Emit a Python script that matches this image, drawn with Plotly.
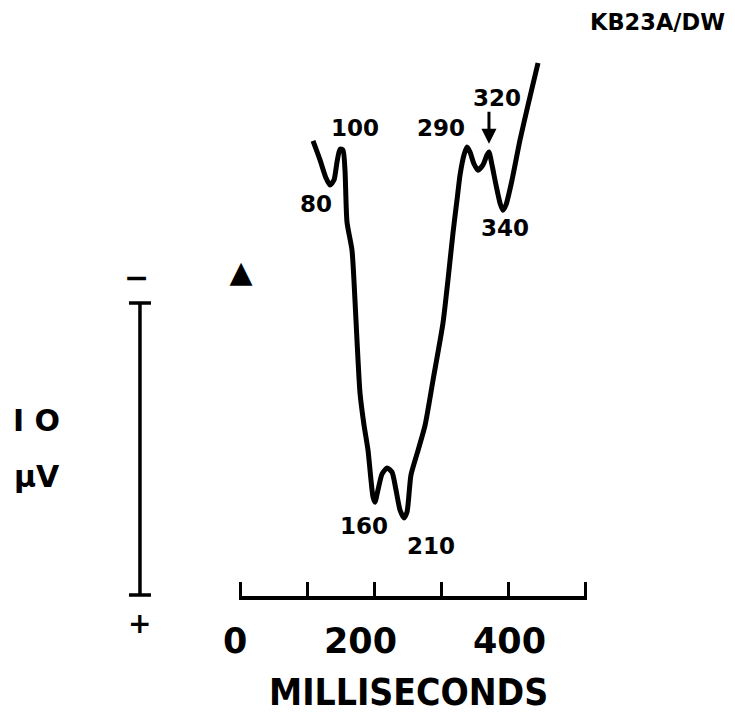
import plotly.graph_objects as go

# ---- data (ms, microvolts; negative plotted upward) ----
time_ms = [109, 119.4, 128.4, 134.3, 140.3, 144.8, 149.3, 153.7, 156.7, 159.7,
           167.2, 171.6, 174.6, 179.1, 185.1, 191.0, 195.5, 198.5, 201.5, 206.0,
           211.9, 219.4, 226.9, 232.8, 238.8, 244.8, 249.3, 255.2, 265.7, 276.1,
           288.1, 303.0, 310.4, 317.9, 323.9, 328.4, 334.3, 338.8, 343.3, 349.3,
           355.2, 362.7, 368.7, 371.6, 376.1, 382.1, 388.1, 392.5, 397.0, 406.0,
           417.9, 429.9, 444.8]
amp_uv = [-5.55, -4.90, -4.28, -4.04, -4.21, -4.83, -5.27, -5.24, -4.55, -2.77,
          -1.80, -0.10, 1.27, 3.08, 4.18, 5.03, 6.06, 6.64, 6.82, 6.40,
          5.86, 5.65, 5.79, 6.40, 7.09, 7.36, 7.16, 5.89, 5.05, 4.20,
          2.64, 0.68, -0.79, -2.40, -3.53, -4.38, -5.07, -5.34, -5.17, -4.76,
          -4.55, -4.73, -5.07, -5.17, -4.73, -4.04, -3.42, -3.18, -3.36, -4.21,
          -5.58, -6.78, -8.22]

peak_labels = ["80", "100", "160", "210", "290", "320", "340"]
peak_label_x = [113.4, 171.6, 185.1, 285.1, 300.0, 383.6, 395.5]
peak_label_y = [-3.39, -5.99, 7.64, 8.32, -5.99, -7.02, -2.57]

axis_ticks = [0, 100, 200, 300, 400, 516.4]
axis_labels = ["0", "200", "400"]
axis_label_x = [-7.5, 179.1, 401.5]

calib_uv = 10
calib_x = -149.3
stim_x = 1.5
stim_y = -0.96

# pixel mapping helpers (layout only)
W, H = 735, 721
PX_PER_MS = 0.67
X0_PX = 240
PX_PER_UV = 29.2
Y0_PX = 303

xr = [-X0_PX / PX_PER_MS, (W - X0_PX) / PX_PER_MS]
yr = [(H - Y0_PX) / PX_PER_UV, -Y0_PX / PX_PER_UV]
x2r = [-1.5, axis_ticks[-1] + 1.5]

fig = go.Figure()

# waveform
fig.add_trace(go.Scatter(x=time_ms, y=amp_uv, mode="lines",
                         line=dict(color="black", width=5, shape="spline", smoothing=0.6),
                         hoverinfo="skip", showlegend=False))

# calibration bar (10 uV) via error bar
fig.add_trace(go.Scatter(x=[calib_x], y=[calib_uv / 2], mode="markers",
                         marker=dict(size=1, color="black"),
                         error_y=dict(type="data", array=[calib_uv / 2], symmetric=True,
                                      width=11, thickness=3.5, color="black"),
                         hoverinfo="skip", showlegend=False))

# stimulus onset marker
fig.add_trace(go.Scatter(x=[stim_x], y=[stim_y], mode="text", text=["▲"],
                         textfont=dict(family="DejaVu Sans", size=30, color="black"),
                         textposition="middle center",
                         hoverinfo="skip", showlegend=False))

# dummy trace for the time axis
fig.add_trace(go.Scatter(x=[axis_ticks[0], axis_ticks[-1]], y=[None, None],
                         xaxis="x2", yaxis="y", mode="lines",
                         hoverinfo="skip", showlegend=False))

bold = dict(family="DejaVu Sans", color="black", weight="bold")

annotations = []
for t, xx, yy in zip(peak_labels, peak_label_x, peak_label_y):
    annotations.append(dict(x=xx, y=yy, text=t, showarrow=False,
                            font=dict(size=23, **bold)))
# arrow to 320 peak
annotations.append(dict(x=371.6, y=-5.45, ax=371.6, ay=-6.6, axref="x", ayref="y",
                        text="", showarrow=True, arrowhead=2, arrowsize=1,
                        arrowwidth=3, arrowcolor="black"))
for t, xx in zip(axis_labels, axis_label_x):
    annotations.append(dict(x=xx, y=11.56, text=t, showarrow=False,
                            font=dict(size=35, **bold)))
annotations.append(dict(x=252.2, y=13.34, text="MILLISECONDS", showarrow=False,
                        font=dict(family="Liberation Sans Narrow, DejaVu Sans Condensed",
                                  size=37, color="black", weight="bold")))
annotations.append(dict(x=-155.2, y=-0.86, text="−", showarrow=False,
                        font=dict(size=30, **bold)))
annotations.append(dict(x=-150.7, y=10.96, text="+", showarrow=False,
                        font=dict(size=28, **bold)))
annotations.append(dict(x=-303, y=4.04, text="I O", showarrow=False,
                        font=dict(size=30, **bold)))
annotations.append(dict(x=-303, y=5.95, text="µV", showarrow=False,
                        font=dict(size=30, **bold)))
annotations.append(dict(x=622.4, y=-9.62, text="KB23A/DW", showarrow=False,
                        font=dict(size=22.5, **bold)))

fig.update_layout(
    width=W, height=H,
    margin=dict(l=0, r=0, t=0, b=0),
    paper_bgcolor="white", plot_bgcolor="rgba(0,0,0,0)",
    xaxis=dict(range=xr, visible=False, fixedrange=True),
    yaxis=dict(range=yr, visible=False, fixedrange=True),
    xaxis2=dict(domain=[(X0_PX + x2r[0] * PX_PER_MS) / W,
                        (X0_PX + x2r[1] * PX_PER_MS) / W],
                range=x2r, anchor="free",
                position=1 - 598 / H, showline=True, linewidth=4, linecolor="black",
                ticks="inside", ticklen=14, tickwidth=3, tickcolor="black",
                tickvals=axis_ticks, showticklabels=False, showgrid=False,
                zeroline=False, fixedrange=True),
    annotations=annotations,
    showlegend=False,
)

fig.write_html("out.html")
